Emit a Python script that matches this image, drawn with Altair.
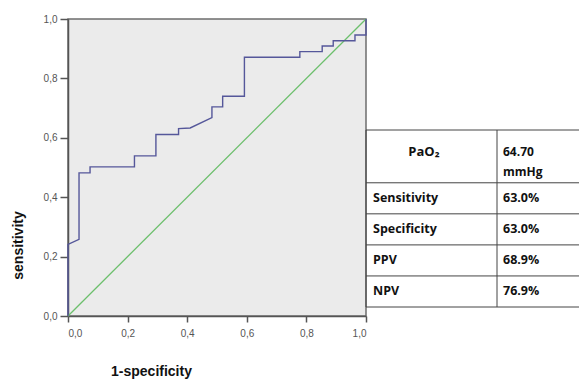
import altair as alt
import pandas as pd

# ROC curve points (1-specificity, sensitivity)
fpr = [0.0, 0.0, 0.037, 0.037, 0.037, 0.074, 0.074, 0.223, 0.223, 0.295, 0.295, 0.371, 0.371,
       0.41, 0.483, 0.483, 0.519, 0.519, 0.592, 0.592, 0.778, 0.778, 0.853, 0.853, 0.890,
       0.890, 0.963, 0.963, 1.0, 1.0]
tpr = [0.0, 0.241, 0.258, 0.482, 0.482, 0.482, 0.502, 0.502, 0.539, 0.539, 0.611, 0.611, 0.631,
       0.633, 0.668, 0.704, 0.704, 0.740, 0.740, 0.871, 0.871, 0.890, 0.890, 0.909, 0.909,
       0.927, 0.927, 0.946, 0.946, 1.0]
ref_x = [0.0, 1.0]
ref_y = [0.0, 1.0]

# Table content
header_label = "PaO₂"
header_value = ["64.70", "mmHg"]
row_labels = ["Sensitivity", "Specificity", "PPV", "NPV"]
row_values = ["63.0%", "63.0%", "68.9%", "76.9%"]

W, H = 298, 297
FONT = "Liberation Sans"
TFONT = "Open Sans"

roc = pd.DataFrame({"x": fpr, "y": tpr, "o": list(range(len(fpr)))})
diag = pd.DataFrame({"x": ref_x, "y": ref_y})

lab = "replace(format(datum.value, '.1f'), '.', ',')"

xenc = alt.X("x:Q", scale=alt.Scale(domain=[0, 1], nice=False),
             axis=alt.Axis(title="1-specificity", values=[0, 0.2, 0.4, 0.6, 0.8, 1.0],
                           labelExpr=lab, grid=False, tickSize=6, labelPadding=6,
                           titleX=83, titleY=55, titleBaseline="middle",
                           titleAlign="center"))
yenc = alt.Y("y:Q", scale=alt.Scale(domain=[0, 1], nice=False),
             axis=alt.Axis(title="sensitivity", values=[0, 0.2, 0.4, 0.6, 0.8, 1.0],
                           labelExpr=lab, grid=False, tickSize=8, labelPadding=3,
                           titleX=-50, titleY=226, titleAngle=-90,
                           titleBaseline="middle", titleAlign="center"))

diag_line = alt.Chart(diag).mark_line(color="#6cbf6c", strokeWidth=1.3).encode(x=xenc, y=yenc)
roc_line = alt.Chart(roc).mark_line(color="#55579a", strokeWidth=1.4,
                                    interpolate="linear").encode(x="x:Q", y="y:Q", order="o:Q")
plot = alt.layer(diag_line, roc_line)

# Table built from the lists, rows placed on a row-unit scale
edges = [0, 1.7, 2.7, 3.7, 4.7, 5.7]
row_scale = alt.Scale(domain=[0, 5.7], range=[111, 288])

bg = pd.DataFrame({"y": [edges[0]], "y2": [edges[-1]]})
table_bg = alt.Chart(bg).mark_rect(fill="white").encode(
    x=alt.value(299), x2=alt.value(540),
    y=alt.Y("y:Q", scale=row_scale, axis=None), y2="y2:Q")

hl = pd.DataFrame({"y": edges})
hlines = alt.Chart(hl).mark_rule(color="#444", strokeWidth=1).encode(
    x=alt.value(298), x2=alt.value(540),
    y=alt.Y("y:Q", scale=row_scale, axis=None))

vl = pd.DataFrame({"y": [edges[0], edges[0]], "y2": [edges[-1], edges[-1]], "px": [298, 429]})
vlines = alt.Chart(vl).mark_rule(color="#444", strokeWidth=1).encode(
    x=alt.X("px:Q", scale=None, axis=None),
    y=alt.Y("y:Q", scale=row_scale, axis=None), y2="y2:Q")

hdr = pd.DataFrame({"t": [header_label], "y": [0.72]})
hdr_text = alt.Chart(hdr).mark_text(font=TFONT, fontWeight="bold", fontSize=13,
                                    align="center", baseline="middle", color="#111").encode(
    x=alt.value(356), y=alt.Y("y:Q", scale=row_scale, axis=None), text="t:N")

hv = pd.DataFrame({"t": [header_value], "y": [0.72]})
hv_text = alt.Chart(hv).mark_text(font=TFONT, fontWeight="bold", fontSize=12,
                                  align="left", baseline="middle", color="#111",
                                  lineHeight=20).encode(
    x=alt.value(435), y=alt.Y("y:Q", scale=row_scale, axis=None), text="t")

rows = pd.DataFrame({"lab": row_labels, "val": row_values,
                     "y": [e + 0.5 for e in edges[1:-1]]})
lab_text = alt.Chart(rows).mark_text(font=TFONT, fontWeight="bold", fontSize=12.5,
                                     align="left", baseline="middle", color="#111").encode(
    x=alt.value(305), y=alt.Y("y:Q", scale=row_scale, axis=None), text="lab:N")
val_text = alt.Chart(rows).mark_text(font=TFONT, fontWeight="bold", fontSize=12.5,
                                     align="left", baseline="middle", color="#111").encode(
    x=alt.value(435), y=alt.Y("y:Q", scale=row_scale, axis=None), text="val:N")

table = alt.layer(table_bg, hlines, vlines, hdr_text, hv_text, lab_text, val_text)

chart = alt.layer(plot, table).resolve_scale(
    y="independent", x="independent"
).properties(
    width=W, height=H,
    autosize=alt.AutoSizeParams(type="none"),
    padding={"left": 60, "top": 11, "right": 213, "bottom": 63},
).configure_view(
    fill="#ebebeb", stroke="#6e6e6e", strokeWidth=1.5
).configure_axis(
    domainColor="#555", domainWidth=1.5, tickColor="#555", tickWidth=1.5,
    labelColor="#555", labelFont=FONT, labelFontSize=10,
    titleFont=FONT, titleFontSize=14, titleFontWeight="bold", titleColor="#111",
)

chart.save("out.html", embed_options={"renderer": "svg", "actions": False})
